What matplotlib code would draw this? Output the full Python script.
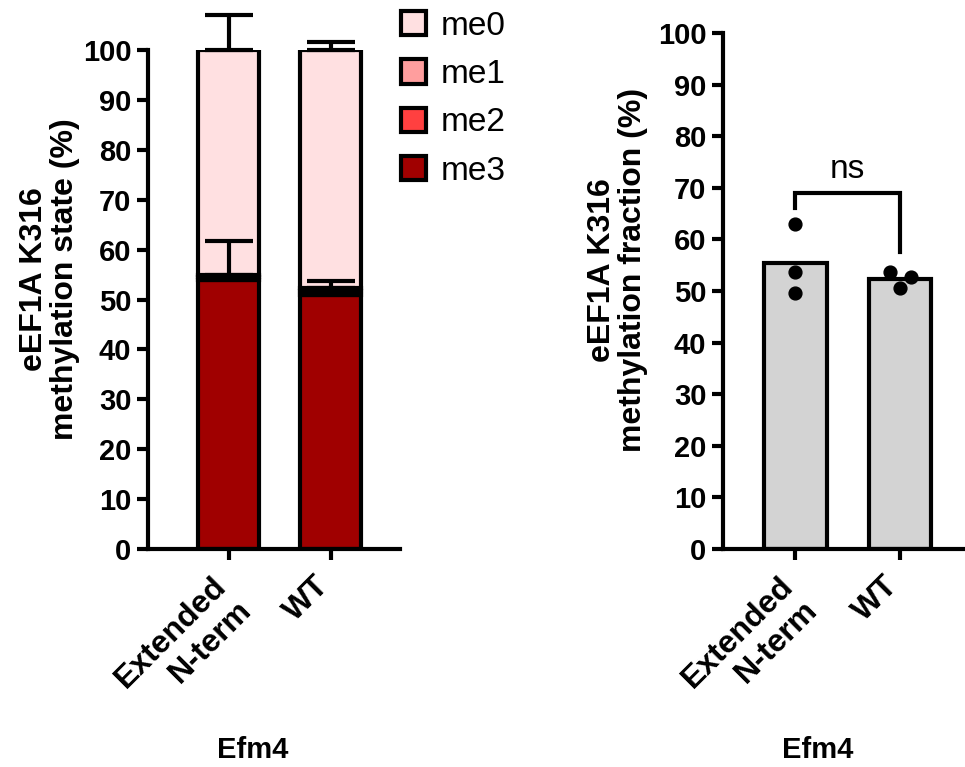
import matplotlib
matplotlib.use("Agg")

import numpy as np
import matplotlib.pyplot as plt
import matplotlib.transforms as mtransforms
from matplotlib.patches import Patch

plt.rcParams["font.family"] = ["Liberation Sans", "DejaVu Sans"]

groups = ["Extended\nN-term", "WT"]

# stacked methylation states (%), per group
me3 = [54.0, 51.0]
me2 = [0.6, 0.7]
me1 = [0.4, 0.6]
me0 = [45.0, 47.7]
err_me1 = [6.8, 1.4]
err_me0 = [7.0, 1.6]

# total methylation fraction, replicate points per group
fraction_points = [[63.0, 53.6, 49.7], [53.6, 52.8, 50.5]]
fraction_mean = [np.mean(p) for p in fraction_points]

state_colors = {"me0": "#FFE0E1", "me1": "#FF9E9E", "me2": "#FF4040", "me3": "#A00000"}

LW = 3.0
YTICK_FS = 21
XTICK_FS = 23
LABEL_FS = 23
TITLE_FS = 21

fig = plt.figure(figsize=(9.65, 7.67), dpi=100)
ax1 = fig.add_axes([0.1534, 0.2842, 0.2611, 0.6506])
ax2 = fig.add_axes([0.7492, 0.2842, 0.2508, 0.6728])


def style_axes(ax, ylabel, label_x, title_x):
    for side in ["top", "right"]:
        ax.spines[side].set_visible(False)
    for side in ["left", "bottom"]:
        ax.spines[side].set_linewidth(LW)
    ax.tick_params(width=LW, length=8, pad=4)
    ax.set_ylim(0, 100)
    ax.set_yticks(range(0, 101, 10))
    ax.set_yticklabels([str(v) for v in range(0, 101, 10)], fontweight="bold", fontsize=YTICK_FS)
    ax.set_xticks(range(len(groups)))
    ax.set_xticklabels(groups, rotation=45, ha="right", va="top", rotation_mode="anchor",
                       multialignment="right", fontweight="bold", fontsize=XTICK_FS)
    shift = mtransforms.ScaledTranslation(-17 / 100, -5 / 100, fig.dpi_scale_trans)
    for lab in ax.get_xticklabels():
        lab.set_transform(lab.get_transform() + shift)
    ax.set_ylabel(ylabel, fontsize=LABEL_FS, fontweight="bold", linespacing=1.05)
    ax.yaxis.set_label_coords(label_x, 0.54)
    fig.text(title_x, 0.022, "Efm4", ha="center", va="center",
             fontsize=TITLE_FS, fontweight="bold")


x = np.arange(len(groups))
width = 0.6

# left: stacked methylation states
bottom = np.zeros(len(groups))
tops = {}
for name, vals in [("me3", me3), ("me2", me2), ("me1", me1), ("me0", me0)]:
    ax1.bar(x, vals, width, bottom=bottom, color=state_colors[name],
            edgecolor="black", linewidth=LW, zorder=2)
    bottom = bottom + np.array(vals)
    tops[name] = bottom.copy()

for top, err in [(tops["me1"], err_me1), (tops["me0"], err_me0)]:
    ax1.errorbar(x, top, yerr=[np.zeros(len(groups)), err], fmt="none",
                 ecolor="black", elinewidth=LW, capsize=17, capthick=LW, zorder=3,
                 clip_on=False)

ax1.set_xlim(-0.79, 1.68)
style_axes(ax1, "eEF1A K316\nmethylation state (%)", -0.27, 253 / 965)

handles = [Patch(facecolor=state_colors[n], edgecolor="black", linewidth=LW, label=n)
           for n in ["me0", "me1", "me2", "me3"]]
leg = fig.legend(handles=handles, loc="upper left", bbox_to_anchor=(0.384, 1.025),
                 frameon=False, fontsize=24, handlelength=0.75, handleheight=0.75,
                 handletextpad=0.45, labelspacing=0.52)

# right: total methylation fraction
ax2.bar(x, fraction_mean, width, color="#D3D3D3", edgecolor="black", linewidth=LW, zorder=2)
offsets = [[0.0, 0.0, 0.0], [-0.1, 0.1, 0.0]]
for i, pts in enumerate(fraction_points):
    ax2.scatter(x[i] + np.array(offsets[i]), pts, s=85, color="black", zorder=3, clip_on=False)

bracket_top = 69.0
ax2.plot([0, 0, 1, 1], [66.0, bracket_top, bracket_top, 57.5], color="black",
         linewidth=LW, solid_joinstyle="miter", zorder=3)
ax2.text(0.5, bracket_top + 1.5, "ns", ha="center", va="bottom", fontsize=24)

ax2.set_xlim(-0.69, 1.62)
style_axes(ax2, "eEF1A K316\nmethylation fraction (%)", -0.31, 818 / 965)

fig.savefig("out.png", dpi=100)
